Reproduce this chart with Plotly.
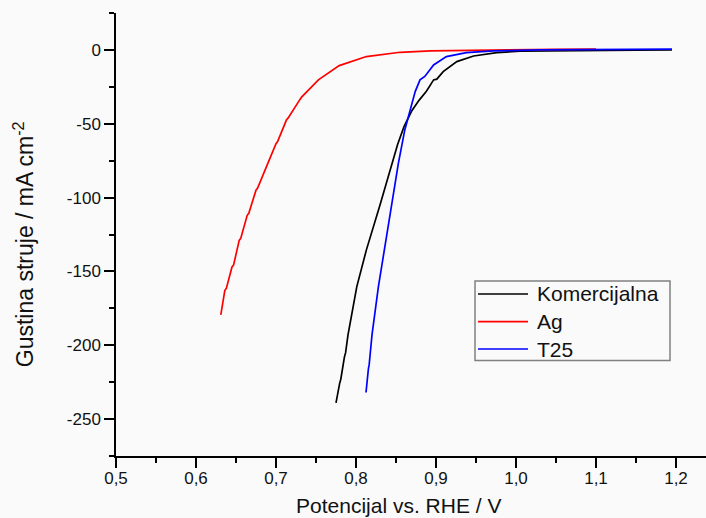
import plotly.graph_objects as go

# ---- data ----
kom_v = [0.775, 0.7765, 0.778, 0.7795, 0.781, 0.7825, 0.784, 0.7855, 0.787, 0.7885, 0.790,
         0.801, 0.813, 0.830, 0.843, 0.852, 0.860, 0.870, 0.879, 0.888, 0.897, 0.901,
         0.909, 0.926, 0.947, 0.976, 1.005, 1.05, 1.10, 1.15, 1.195]
kom_j = [-239, -234, -232, -226, -223, -217, -214, -208, -205, -198, -193,
         -160.3, -135.4, -105, -81, -64, -52, -41, -34, -28, -20.3, -19.8,
         -14.7, -7.9, -4.1, -1.8, -0.9, -0.5, -0.3, -0.1, 0.0]

ag_v = [0.631, 0.636, 0.638, 0.645, 0.647, 0.654, 0.656, 0.664, 0.666, 0.675, 0.677,
        0.687, 0.689, 0.700, 0.702, 0.713, 0.715, 0.730, 0.732, 0.753, 0.779, 0.813,
        0.855, 0.893, 0.95, 1.0, 1.05, 1.10]
ag_j = [-179.4, -163, -161.3, -147, -145.6, -129, -127.5, -112, -110.6, -95, -93.6,
        -79.5, -77.9, -63.5, -62.1, -47.5, -46.2, -33.5, -32.0, -20.3, -10.6, -4.5,
        -1.6, -0.7, -0.2, 0.1, 0.4, 0.6]

t25_v = [0.8125, 0.8135, 0.8145, 0.8155, 0.8165, 0.8175, 0.8185, 0.8195, 0.820,
         0.828, 0.836, 0.845, 0.853, 0.861, 0.8675, 0.874, 0.880, 0.883, 0.886,
         0.897, 0.913, 0.938, 0.972, 1.03, 1.10, 1.195]
t25_j = [-232, -225, -222, -216, -213, -206, -203, -197, -193,
         -160.3, -133.2, -104.9, -76.7, -54.2, -40.6, -28.2, -20.3, -19.2, -18,
         -10.2, -4.5, -1.8, -0.7, 0.0, 0.3, 0.5]

series_names = ["Komercijalna", "Ag", "T25"]
series_colors = ["#000000", "#ff0000", "#0000ff"]

y_tickvals = [0, -50, -100, -150, -200, -250]
y_ticktext = ["0", "-50", "-100", "-150", "-200", "-250"]

x_range = [0.5, 1.2375]
y_range = [-275, 25]

FONT = "Liberation Sans, Arial, sans-serif"
BG = "#fafafa"
TXT = "#111111"

fig = go.Figure()
for name, color, xs, ys in zip(series_names, series_colors,
                               [kom_v, ag_v, t25_v], [kom_j, ag_j, t25_j]):
    fig.add_trace(go.Scatter(x=xs, y=ys, mode="lines", name=name, showlegend=False,
                             line=dict(color=color, width=1.7)))

axis_common = dict(
    showgrid=False, zeroline=False, showline=True, linecolor="black", linewidth=1.5,
    ticks="outside", ticklen=10, tickwidth=1.5, tickcolor="black",
    tickfont=dict(family=FONT, size=17, color=TXT),
)

fig.update_xaxes(range=x_range, dtick=0.1, tick0=0.5, tickformat=".1f",
                 ticklabelstandoff=-4,
                 minor=dict(dtick=0.05, ticks="outside", ticklen=5, tickwidth=1.5,
                            tickcolor="black"),
                 **axis_common)
fig.update_yaxes(range=y_range, tickmode="array", tickvals=y_tickvals, ticktext=y_ticktext,
                 minor=dict(dtick=25, tick0=0, ticks="outside", ticklen=5, tickwidth=1.5,
                            tickcolor="black"),
                 **axis_common)

fig.add_annotation(text="Potencijal vs. RHE / V", xref="paper", yref="paper",
                   x=0.478, y=-0.111, xanchor="center", yanchor="middle",
                   showarrow=False, font=dict(family=FONT, size=21, color=TXT))
fig.add_annotation(text="Gustina struje / mA cm<sup>-2</sup>", xref="paper", yref="paper",
                   x=-0.156, y=0.478, xanchor="center", yanchor="middle", textangle=-90,
                   showarrow=False, font=dict(family=FONT, size=23, color=TXT))

# ---- legend box (drawn as shapes + text) ----
fig.add_shape(type="rect", xref="paper", yref="paper",
              x0=0.6085, x1=0.939, y0=0.2156, y1=0.395,
              line=dict(color="#808080", width=1.5), fillcolor=BG, layer="above")
leg_y = [0.3657, 0.3032, 0.2415]
for name, color, yy in zip(series_names, series_colors, leg_y):
    fig.add_shape(type="line", xref="paper", yref="paper",
                  x0=0.6136, x1=0.6983, y0=yy, y1=yy,
                  line=dict(color=color, width=1.7), layer="above")
    fig.add_annotation(text=name, xref="paper", yref="paper", x=0.7102, y=yy,
                       xanchor="left", yanchor="middle", showarrow=False,
                       font=dict(family=FONT, size=21, color=TXT))

fig.update_layout(
    width=706, height=518,
    margin=dict(l=116, r=0, t=13, b=62),
    paper_bgcolor=BG, plot_bgcolor=BG,
    separators=",.",
    showlegend=False,
)

fig.write_html("out.html", config={"displayModeBar": False},
               post_script="document.body.style.margin='0px';")
